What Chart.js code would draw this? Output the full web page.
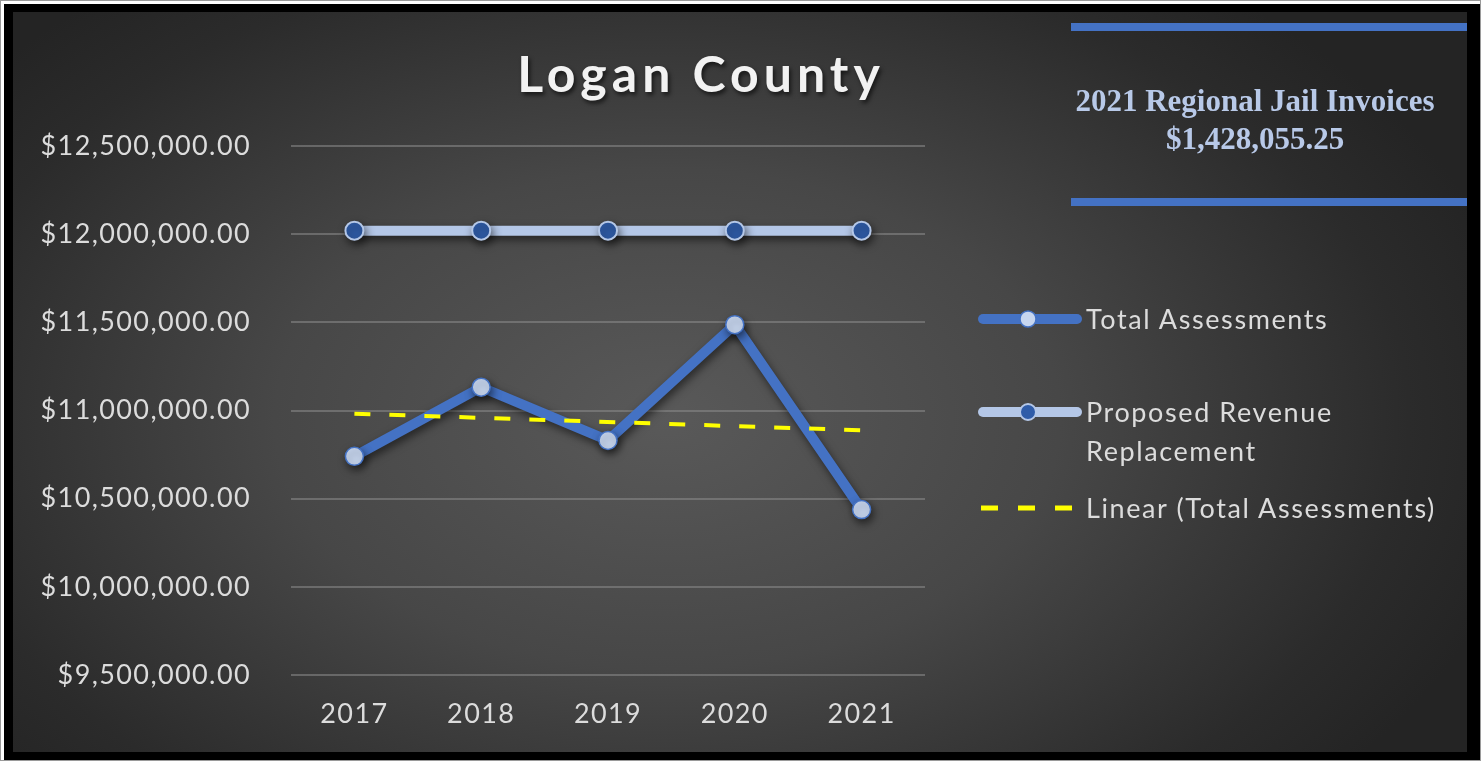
<!DOCTYPE html>
<html>
<head>
<meta charset="utf-8">
<script src="https://cdn.jsdelivr.net/npm/chart.js@4.4.1/dist/chart.umd.min.js"></script>
<style>
  html, body { margin: 0; padding: 0; background: #fff; }
  #frame {
    position: absolute; left: 0; top: 0; width: 1481px; height: 761px;
    box-sizing: border-box;
    border: 1px solid #9a9a9a;
    overflow: hidden;
  }
  #inner {
    position: absolute; left: 3px; top: 3px; right: 0; bottom: 0;
    border-style: solid; border-color: #000;
    border-width: 8px 13px 8px 9px;
    background: radial-gradient(ellipse 60% 75% at 45% 55%, #595959 0%, #474747 45%, #2b2b2b 85%, #242424 100%);
  }
  #chart { position: absolute; left: 0; top: 0; }
  .title {
    position: absolute; left: 490px; top: 42px; width: 420px; text-align: center;
    font: bold 50px Lato, sans-serif; letter-spacing: 5px; color: #f2f2f2;
    text-shadow: 2px 3px 4px rgba(0,0,0,0.6);
  }
  .bar { position: absolute; left: 1070px; width: 396px; height: 8px; background: #4472c4; }
  .info {
    position: absolute; left: 1040px; top: 81px; width: 428px; text-align: center;
    font: bold 31px "Liberation Serif", serif; color: #b8c9e8; line-height: 38px;
  }
  .legend { position: absolute; left: 976px; top: 0; font: 27px Lato, sans-serif; letter-spacing: 1.6px; color: #dcdcdc; }
  .item { position: absolute; left: 0; white-space: nowrap; }
  .item svg { position: absolute; left: 0; }
  .item span { position: absolute; left: 109px; line-height: 39px; }
</style>
</head>
<body>
<div id="frame">
  <div id="inner"></div>
  <canvas id="chart" width="1481" height="761"></canvas>
  <div class="title">Logan County</div>
  <div class="bar" style="top:22px"></div>
  <div class="bar" style="top:197px"></div>
  <div class="info">2021 Regional Jail Invoices<br>$1,428,055.25</div>
  <div class="legend">
    <div class="item" style="top:298px">
      <svg width="106" height="40"><line x1="6" y1="20" x2="100" y2="20" stroke="#4472c4" stroke-width="10" stroke-linecap="round"/><circle cx="51" cy="20" r="8" fill="#c7d6ef" stroke="#4472c4" stroke-width="1.5"/></svg>
      <span>Total Assessments</span>
    </div>
    <div class="item" style="top:391px">
      <svg width="106" height="40"><line x1="6" y1="20" x2="100" y2="20" stroke="#b4c7e7" stroke-width="10" stroke-linecap="round"/><circle cx="51" cy="20" r="8" fill="#2f5ca8" stroke="#b4c7e7" stroke-width="2"/></svg>
      <span>Proposed Revenue<br>Replacement</span>
    </div>
    <div class="item" style="top:487px">
      <svg width="106" height="40"><line x1="4" y1="20" x2="100" y2="20" stroke="#ffff00" stroke-width="5" stroke-dasharray="17 20"/></svg>
      <span>Linear (Total Assessments)</span>
    </div>
  </div>
</div>
<script>
const years = ['2017', '2018', '2019', '2020', '2021'];
const totalAssessments = [10740000, 11132000, 10830000, 11487000, 10438000];
const proposedRevenue = [12020000, 12020000, 12020000, 12020000, 12020000];
// trend line read at its two ends, gap in the middle is spanned
const linearTrend = [10982000, null, null, null, 10888000];
const yMin = 9500000;
const yMax = 12500000;
const yStep = 500000;

// spread the tick text a little, the original font runs wider than Lato
const spacing = {
  id: 'spacing',
  beforeInit(chart) { chart.ctx.letterSpacing = '1.4px'; },
  beforeDraw(chart) { chart.ctx.letterSpacing = '1.4px'; }
};

const shadow = {
  id: 'shadow',
  beforeDatasetDraw(chart, args) {
    if (args.index === 2) return;
    const ctx = chart.ctx;
    ctx.save();
    ctx.shadowColor = 'rgba(0,0,0,0.55)';
    ctx.shadowBlur = 8;
    ctx.shadowOffsetX = 2;
    ctx.shadowOffsetY = 4;
  },
  afterDatasetDraw(chart, args) {
    if (args.index === 2) return;
    chart.ctx.restore();
  }
};

const ctx = document.getElementById('chart').getContext('2d');
const money = v => '$' + v.toLocaleString('en-US', {minimumFractionDigits: 2, maximumFractionDigits: 2});

new Chart(ctx, {
  type: 'line',
  data: {
    labels: years,
    datasets: [
      {
        label: 'Total Assessments',
        data: totalAssessments,
        borderColor: '#4472c4',
        borderWidth: 10,
        pointRadius: 9,
        pointBackgroundColor: '#c7d6ef',
        pointBorderColor: '#4472c4',
        pointBorderWidth: 1.5,
        order: 1
      },
      {
        label: 'Proposed Revenue Replacement',
        data: proposedRevenue,
        borderColor: '#b4c7e7',
        borderWidth: 10,
        pointRadius: 9,
        pointBackgroundColor: '#2f5ca8',
        pointBorderColor: '#b4c7e7',
        pointBorderWidth: 2,
        order: 2
      },
      {
        label: 'Linear (Total Assessments)',
        data: linearTrend,
        spanGaps: true,
        borderColor: '#ffff00',
        borderWidth: 4,
        borderDash: [16, 19],
        pointRadius: 0,
        order: 0
      }
    ]
  },
  options: {
    responsive: false,
    animation: false,
    layout: { padding: { left: 0, top: 145, right: 557, bottom: 0 } },
    plugins: { legend: { display: false }, tooltip: { enabled: false } },
    scales: {
      x: {
        offset: true,
        grid: { display: false, drawTicks: false },
        border: { display: false },
        ticks: { color: '#dcdcdc', font: { family: 'Lato', size: 27 }, padding: 23 },
        afterFit(scale) { scale.height = 87; }
      },
      y: {
        min: yMin,
        max: yMax,
        grid: { color: 'rgba(140,140,140,0.55)', lineWidth: 2, drawTicks: false },
        border: { display: false },
        ticks: {
          stepSize: yStep,
          color: '#dcdcdc',
          font: { family: 'Lato', size: 27 },
          padding: 40,
          callback: v => money(v)
        },
        afterFit(scale) { scale.width = 290; }
      }
    }
  },
  plugins: [spacing, shadow]
});
</script>
</body>
</html>
